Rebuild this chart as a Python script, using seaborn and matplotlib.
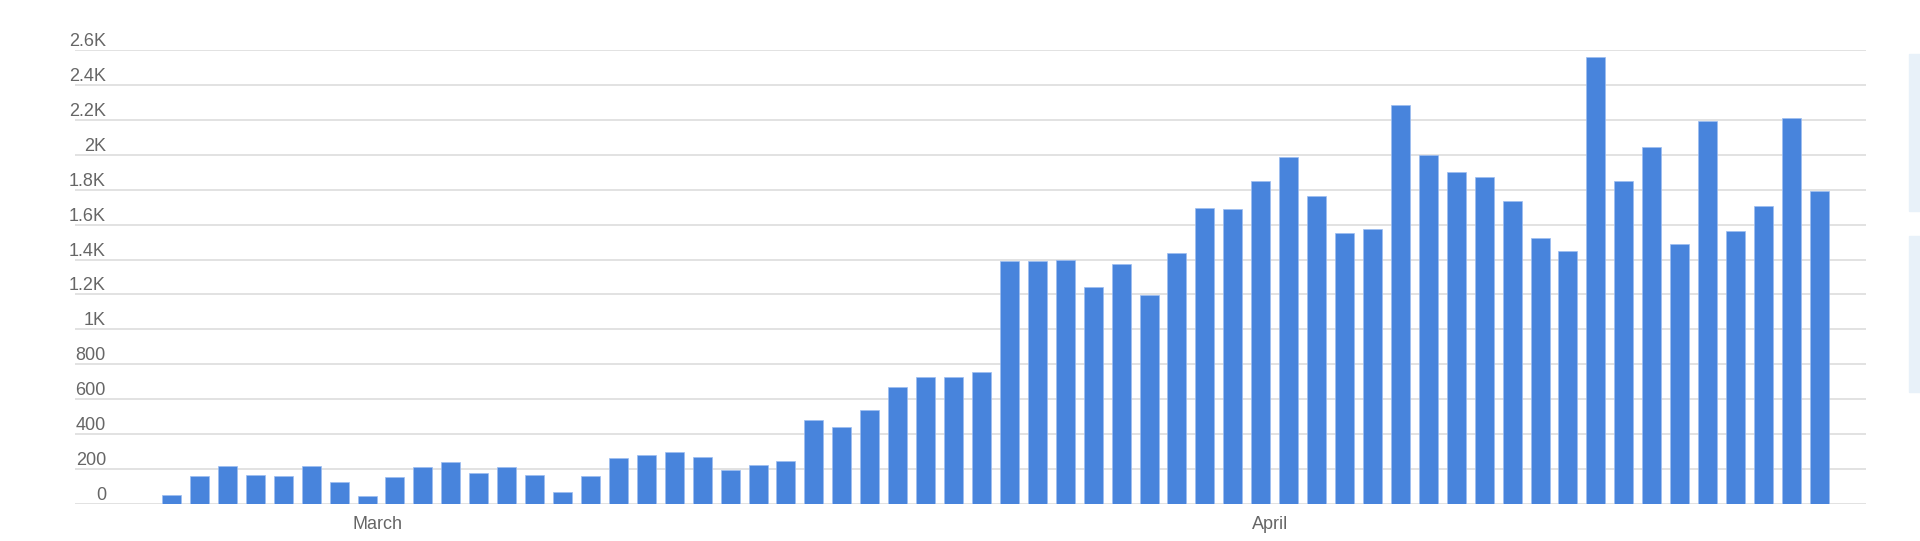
import pandas as pd
import matplotlib
matplotlib.use("Agg")
import matplotlib.pyplot as plt
import seaborn as sns
from matplotlib.patches import Rectangle

# daily counts
days = list(pd.date_range("2020-02-23", periods=60).strftime("%Y-%m-%d"))
counts = [
    49, 158, 216, 164, 156, 218, 123, 46, 152, 212,
    239, 176, 208, 162, 65, 156, 261, 281, 295, 269,
    192, 224, 243, 479, 439, 540, 671, 726, 724, 758,
    1391, 1389, 1397, 1245, 1377, 1199, 1440, 1696, 1690, 1852,
    1991, 1765, 1555, 1576, 2287, 2002, 1901, 1872, 1735, 1523,
    1448, 2564, 1850, 2048, 1492, 2194, 1563, 1708, 2214, 1795,
]
y_ticks = list(range(0, 2601, 200))
y_tick_labels = ["0", "200", "400", "600", "800", "1K", "1.2K", "1.4K",
                 "1.6K", "1.8K", "2K", "2.2K", "2.4K", "2.6K"]
month_labels = ["March", "April"]
month_pos = [7.375, 39.35]

df = pd.DataFrame({"day": days, "count": counts})

sns.set_style("white")
plt.rcParams["font.family"] = ["Liberation Sans", "DejaVu Sans"]

fig = plt.figure(figsize=(19.2, 5.41), dpi=100)
ax = fig.add_axes([75 / 1920, 1 - 503.7 / 541, (1866 - 75) / 1920, (503.7 - 50.3) / 541])

sns.barplot(data=df, x="day", y="count", color="#4884dc", saturation=1,
            width=0.68, edgecolor="#9dbdf0", linewidth=0.5, ax=ax, zorder=3)

ax.set_xlim(-3.455, 60.67)
ax.set_ylim(0, 2600)

ax.set_yticks(y_ticks)
ax.set_yticklabels(y_tick_labels)
for lab in ax.get_yticklabels():
    lab.set_verticalalignment("bottom")
ax.tick_params(axis="y", length=0, pad=-31 * 0.72, labelsize=13, labelcolor="#666666")

ax.set_xticks(month_pos)
ax.set_xticklabels(month_labels)
ax.tick_params(axis="x", length=7, width=1, color="#d9d9d9", pad=2,
               labelsize=13, labelcolor="#666666")

ax.grid(axis="y", color="#dddddd", linewidth=1.2, zorder=0)
ax.set_axisbelow(True)
for s in ax.spines.values():
    s.set_visible(False)
ax.set_xlabel("")
ax.set_ylabel("")

# cut-off side panels at the right edge
fig.patches.append(Rectangle((1909 / 1920, 1 - 211 / 541), 11 / 1920, 157 / 541,
                             transform=fig.transFigure, color="#e8f1f9", zorder=0))
fig.patches.append(Rectangle((1909 / 1920, 1 - 392 / 541), 11 / 1920, 156 / 541,
                             transform=fig.transFigure, color="#e8f1f9", zorder=0))

fig.savefig("out.png", dpi=100)
